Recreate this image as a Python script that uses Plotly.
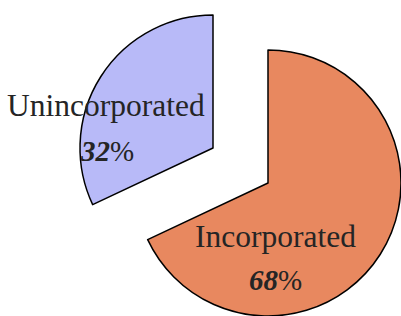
import plotly.graph_objects as go

labels = ["Incorporated", "Unincorporated"]
values = [68, 32]
colors = ["#E8885F", "#B8BAF8"]

W, H = 401, 316
R = 133
# pulled-apart slice centres (pixels)
centers = [(268, 183), (213, 148)]
label_pos = [((275, 236), (275, 280)), ((106, 105), (107, 151))]

fig = go.Figure()
for i, (cx, cy) in enumerate(centers):
    mc = [colors[j] if j == i else "rgba(0,0,0,0)" for j in range(len(values))]
    lc = ["black" if j == i else "rgba(0,0,0,0)" for j in range(len(values))]
    fig.add_trace(go.Pie(
        labels=labels, values=values, sort=False, direction="clockwise", rotation=0,
        marker=dict(colors=mc, line=dict(color=lc, width=1.5)),
        textinfo="none", hoverinfo="skip", showlegend=False,
        domain=dict(x=[(cx - R) / W, (cx + R) / W],
                    y=[(H - cy - R) / H, (H - cy + R) / H]),
    ))

lfont = dict(family="Liberation Serif", size=31.5, color="#252525")
pfont = dict(family="Liberation Serif", size=29, color="#252525")
for i, ((lx, ly), (px, py)) in enumerate(label_pos):
    fig.add_annotation(x=lx / W, y=1 - ly / H, xref="paper", yref="paper",
                       text=labels[i], showarrow=False, font=lfont,
                       xanchor="center", yanchor="middle")
    fig.add_annotation(x=px / W, y=1 - py / H, xref="paper", yref="paper",
                       text=f"<b><i>{values[i]}</i></b>%", showarrow=False, font=pfont,
                       xanchor="center", yanchor="middle")

fig.update_layout(width=W, height=H, margin=dict(l=0, r=0, t=0, b=0),
                  paper_bgcolor="white", plot_bgcolor="white")
fig.write_html("out.html", config={"displayModeBar": False, "staticPlot": True},
               post_script="document.body.style.margin='0px';")
